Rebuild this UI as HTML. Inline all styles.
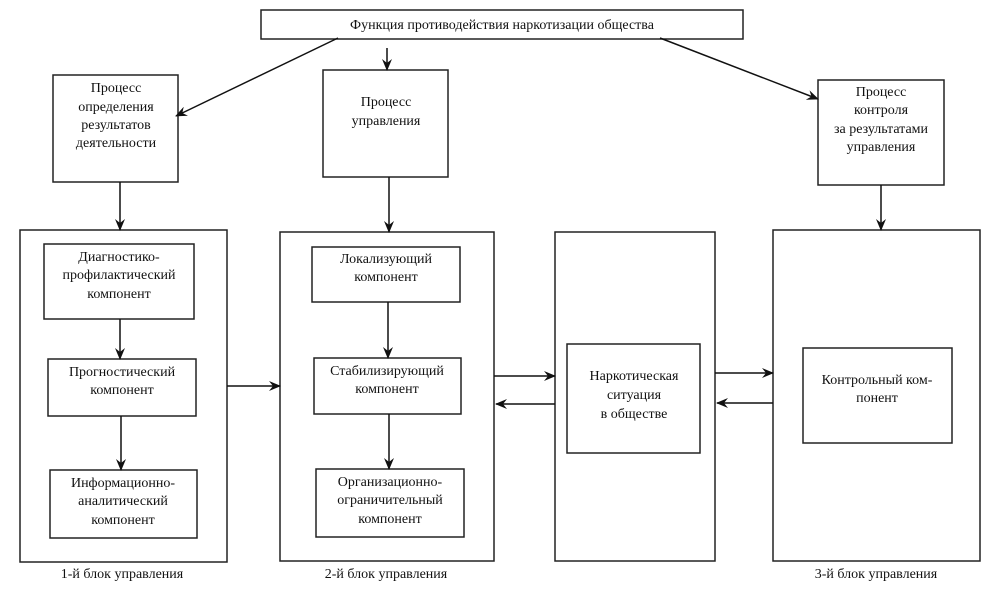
<!DOCTYPE html>
<html><head><meta charset="utf-8"><style>
body{margin:0;background:#fff}
svg text{font-family:"Liberation Serif",serif;font-size:14px;fill:#111;text-anchor:middle}
</style></head><body>
<svg width="1000" height="596" viewBox="0 0 1000 596" xmlns="http://www.w3.org/2000/svg">
<defs><marker id="a" markerWidth="12" markerHeight="10" refX="11" refY="5" orient="auto" markerUnits="userSpaceOnUse"><path d="M0,0 L12,5 L0,10 L4,5 Z" fill="#111"/></marker></defs>
<g fill="none" stroke="#222" stroke-width="1.5">
<rect x="261" y="10" width="482" height="29"/>
<rect x="53" y="75" width="125" height="107"/>
<rect x="323" y="70" width="125" height="107"/>
<rect x="818" y="80" width="126" height="105"/>
<rect x="20" y="230" width="207" height="332"/>
<rect x="44" y="244" width="150" height="75"/>
<rect x="48" y="359" width="148" height="57"/>
<rect x="50" y="470" width="147" height="68"/>
<rect x="280" y="232" width="214" height="329"/>
<rect x="312" y="247" width="148" height="55"/>
<rect x="314" y="358" width="147" height="56"/>
<rect x="316" y="469" width="148" height="68"/>
<rect x="555" y="232" width="160" height="329"/>
<rect x="567" y="344" width="133" height="109"/>
<rect x="773" y="230" width="207" height="331"/>
<rect x="803" y="348" width="149" height="95"/>
</g>
<g stroke="#111" stroke-width="1.5" marker-end="url(#a)">
<line x1="338" y1="38" x2="176" y2="116"/>
<line x1="387" y1="48" x2="387" y2="70"/>
<line x1="660" y1="38" x2="818" y2="99"/>
<line x1="120" y1="182" x2="120" y2="230"/>
<line x1="389" y1="177" x2="389" y2="232"/>
<line x1="881" y1="185" x2="881" y2="230"/>
<line x1="120" y1="319" x2="120" y2="359"/>
<line x1="121" y1="416" x2="121" y2="470"/>
<line x1="388" y1="302" x2="388" y2="358"/>
<line x1="389" y1="414" x2="389" y2="469"/>
<line x1="227" y1="386" x2="280" y2="386"/>
<line x1="494" y1="376" x2="555" y2="376"/>
<line x1="555" y1="404" x2="496" y2="404"/>
<line x1="715" y1="373" x2="773" y2="373"/>
<line x1="773" y1="403" x2="717" y2="403"/>
</g>
<text x="502" y="29">Функция противодействия наркотизации общества</text>
<text x="116" y="92">Процесс</text><text x="116" y="111">определения</text><text x="116" y="129">результатов</text><text x="116" y="147">деятельности</text>
<text x="386" y="106">Процесс</text><text x="386" y="125">управления</text>
<text x="881" y="96">Процесс</text><text x="881" y="114">контроля</text><text x="881" y="133">за результатами</text><text x="881" y="151">управления</text>
<text x="119" y="261">Диагностико-</text><text x="119" y="279">профилактический</text><text x="119" y="298">компонент</text>
<text x="122" y="376">Прогностический</text><text x="122" y="394">компонент</text>
<text x="123" y="487">Информационно-</text><text x="123" y="505">аналитический</text><text x="123" y="524">компонент</text>
<text x="386" y="263">Локализующий</text><text x="386" y="281">компонент</text>
<text x="387" y="375">Стабилизирующий</text><text x="387" y="393">компонент</text>
<text x="390" y="486">Организационно-</text><text x="390" y="504">ограничительный</text><text x="390" y="523">компонент</text>
<text x="634" y="380">Наркотическая</text><text x="634" y="399">ситуация</text><text x="634" y="418">в обществе</text>
<text x="877" y="384">Контрольный ком-</text><text x="877" y="402">понент</text>
<text x="122" y="578">1-й блок управления</text>
<text x="386" y="578">2-й блок управления</text>
<text x="876" y="578">3-й блок управления</text>
</svg>
</body></html>
